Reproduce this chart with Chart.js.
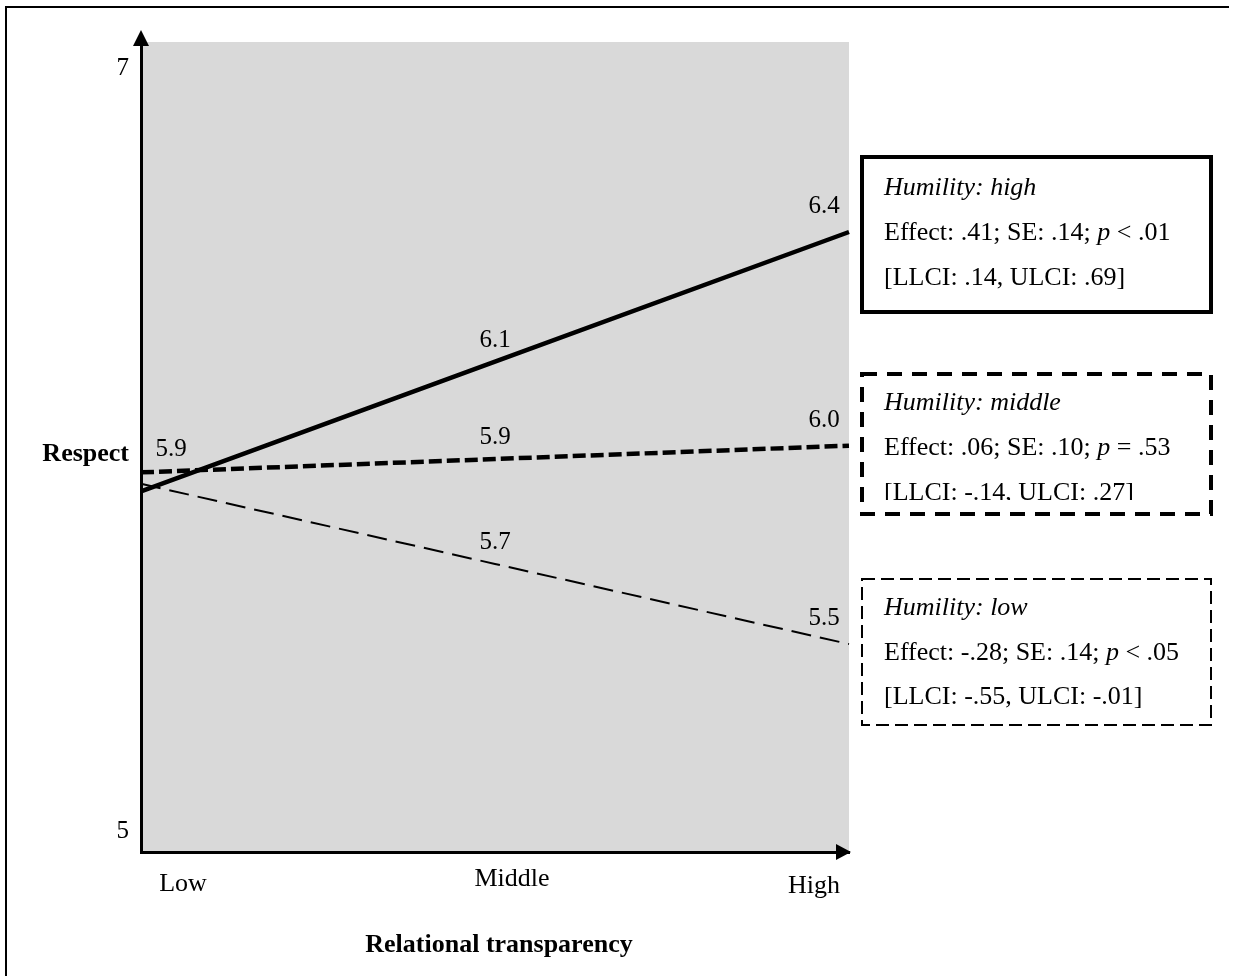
<!DOCTYPE html>
<html>
<head>
<meta charset="utf-8">
<script src="https://cdn.jsdelivr.net/npm/chart.js@4.4.1/dist/chart.umd.min.js"></script>
<style>
  html, body { margin: 0; padding: 0; background: #fff; }
  #wrap { width: 1233px; height: 976px; }
</style>
</head>
<body>
<div id="wrap"><canvas id="c" width="1233" height="976"></canvas></div>
<script>
// ---- data ----
const xLabels = ['Low', 'Middle', 'High'];
const humilityHigh = [5.89, 6.23, 6.57];
const humilityMiddle = [5.94, 5.975, 6.01];
const humilityLow = [5.91, 5.70, 5.49];
const highValueLabels = ['', '6.1', '6.4'];
const middleValueLabels = ['5.9', '5.9', '6.0'];
const lowValueLabels = ['', '5.7', '5.5'];
const yTicks = [5, 7];
const yMin = 4.945;
const yMax = 7.068;
const yTitle = 'Respect';
const xTitle = 'Relational transparency';
const boxTitles = ['Humility: high', 'Humility: middle', 'Humility: low'];
const boxEffects = [
  ['Effect: .41; SE: .14; ', 'p', ' < .01'],
  ['Effect: .06; SE: .10; ', 'p', ' = .53'],
  ['Effect: -.28; SE: .14; ', 'p', ' < .05']
];
const boxCIs = ['[LLCI: .14, ULCI: .69]', '[LLCI: -.14, ULCI: .27]', '[LLCI: -.55, ULCI: -.01]'];

const SERIF = '"Liberation Serif", "Times New Roman", Times, serif';
Chart.defaults.font.family = SERIF;
Chart.defaults.color = '#000';

const deco = {
  id: 'deco',
  beforeDraw(chart) {
    const {ctx, chartArea: a} = chart;
    ctx.save();
    ctx.fillStyle = '#fff';
    ctx.fillRect(0, 0, chart.width, chart.height);
    ctx.fillStyle = '#d9d9d9';
    ctx.fillRect(a.left, a.top, a.right - a.left, a.bottom - a.top);
    // outer frame
    ctx.strokeStyle = '#000';
    ctx.lineWidth = 2;
    ctx.beginPath();
    ctx.moveTo(6, chart.height + 2);
    ctx.lineTo(6, 7);
    ctx.lineTo(1229, 7);
    ctx.stroke();
    ctx.restore();
  },
  afterDraw(chart) {
    const {ctx, chartArea: a, scales} = chart;
    const xs = scales.x, ys = scales.y;
    ctx.save();
    ctx.fillStyle = '#000';
    ctx.strokeStyle = '#000';
    // y axis extension + arrow
    ctx.lineWidth = 3;
    ctx.beginPath();
    ctx.moveTo(a.left, a.top + 1);
    ctx.lineTo(a.left, 44);
    ctx.stroke();
    ctx.beginPath();
    ctx.moveTo(a.left, 30);
    ctx.lineTo(a.left - 8, 46);
    ctx.lineTo(a.left + 8, 46);
    ctx.closePath();
    ctx.fill();
    // x axis arrow
    ctx.beginPath();
    ctx.moveTo(a.right + 2, a.bottom);
    ctx.lineTo(a.right - 13, a.bottom - 8);
    ctx.lineTo(a.right - 13, a.bottom + 8);
    ctx.closePath();
    ctx.fill();

    // x tick labels
    ctx.font = '26px ' + SERIF;
    ctx.textAlign = 'center';
    ctx.textBaseline = 'alphabetic';
    const xOff = [42, 17, -35];
    const xBase = [891, 886, 893];
    xLabels.forEach((l, i) => {
      ctx.fillText(l, xs.getPixelForValue(i) + xOff[i], xBase[i]);
    });

    // titles
    ctx.font = 'bold 26px ' + SERIF;
    ctx.textAlign = 'right';
    ctx.fillText(yTitle, 129, 461);
    ctx.textAlign = 'center';
    ctx.fillText(xTitle, (a.left + a.right) / 2 + 4, 952);

    // value labels
    ctx.font = '25px ' + SERIF;
    const lx = [30, 0, -25];
    const ly = [-16, -15, -19];
    [[humilityHigh, highValueLabels], [humilityMiddle, middleValueLabels], [humilityLow, lowValueLabels]]
      .forEach(([vals, labs]) => {
        labs.forEach((t, i) => {
          if (!t) return;
          ctx.fillText(t, xs.getPixelForValue(i) + lx[i], ys.getPixelForValue(vals[i]) + ly[i]);
        });
      });

    // boxes
    const bx0 = a.right + 13, bx1 = a.right + 362;
    const boxes = [
      {y0: 157, y1: 312, lw: 4, dash: [], base: [195, 240, 285], clip: null},
      {y0: 374, y1: 514, lw: 4, dash: [15, 10], base: [410, 455, 500], clip: 500},
      {y0: 579, y1: 725, lw: 2, dash: [13, 6], base: [615, 660, 704], clip: null}
    ];
    boxes.forEach((b, k) => {
      ctx.save();
      ctx.fillStyle = '#fff';
      ctx.fillRect(bx0, b.y0, bx1 - bx0, b.y1 - b.y0);
      ctx.restore();
      ctx.save();
      ctx.lineWidth = b.lw;
      ctx.setLineDash(b.dash);
      ctx.strokeRect(bx0, b.y0, bx1 - bx0, b.y1 - b.y0);
      ctx.restore();
      ctx.save();
      if (b.clip) {
        ctx.beginPath();
        ctx.rect(bx0, b.y0, bx1 - bx0, b.clip - b.y0);
        ctx.clip();
      }
      ctx.textAlign = 'left';
      const tx = bx0 + 22;
      ctx.font = 'italic 26px ' + SERIF;
      ctx.fillText(boxTitles[k], tx, b.base[0]);
      let x = tx;
      boxEffects[k].forEach((seg, j) => {
        ctx.font = (j === 1 ? 'italic ' : '') + '26px ' + SERIF;
        ctx.fillText(seg, x, b.base[1]);
        x += ctx.measureText(seg).width;
      });
      ctx.font = '26px ' + SERIF;
      ctx.fillText(boxCIs[k], tx, b.base[2]);
      ctx.restore();
    });
    ctx.restore();
  }
};

new Chart(document.getElementById('c'), {
  type: 'line',
  data: {
    labels: xLabels,
    datasets: [
      {label: 'Humility: high', data: humilityHigh, borderColor: '#000', borderWidth: 4.5, pointRadius: 0, tension: 0, borderCapStyle: 'butt'},
      {label: 'Humility: middle', data: humilityMiddle, borderColor: '#000', borderWidth: 4.5, borderDash: [13, 5], pointRadius: 0, tension: 0, borderCapStyle: 'butt'},
      {label: 'Humility: low', data: humilityLow, borderColor: '#000', borderWidth: 2, borderDash: [20, 9], pointRadius: 0, tension: 0, borderCapStyle: 'butt'}
    ]
  },
  options: {
    responsive: false,
    animation: false,
    devicePixelRatio: 1,
    layout: {padding: {left: 0, top: 42, right: 384, bottom: 124}},
    plugins: {legend: {display: false}, tooltip: {enabled: false}},
    scales: {
      x: {
        type: 'category',
        offset: false,
        grid: {display: false, drawTicks: false},
        border: {display: true, color: '#000', width: 3},
        ticks: {display: false},
        afterFit(s) { s.height = 0; }
      },
      y: {
        type: 'linear',
        min: yMin,
        max: yMax,
        grid: {display: false, drawTicks: false},
        border: {display: true, color: '#000', width: 3},
        afterBuildTicks(s) { s.ticks = yTicks.map(v => ({value: v})); },
        ticks: {font: {size: 25, family: SERIF}, color: '#000', padding: 12},
        afterFit(s) { s.width = 141; }
      }
    }
  },
  plugins: [deco]
});
</script>
</body>
</html>
